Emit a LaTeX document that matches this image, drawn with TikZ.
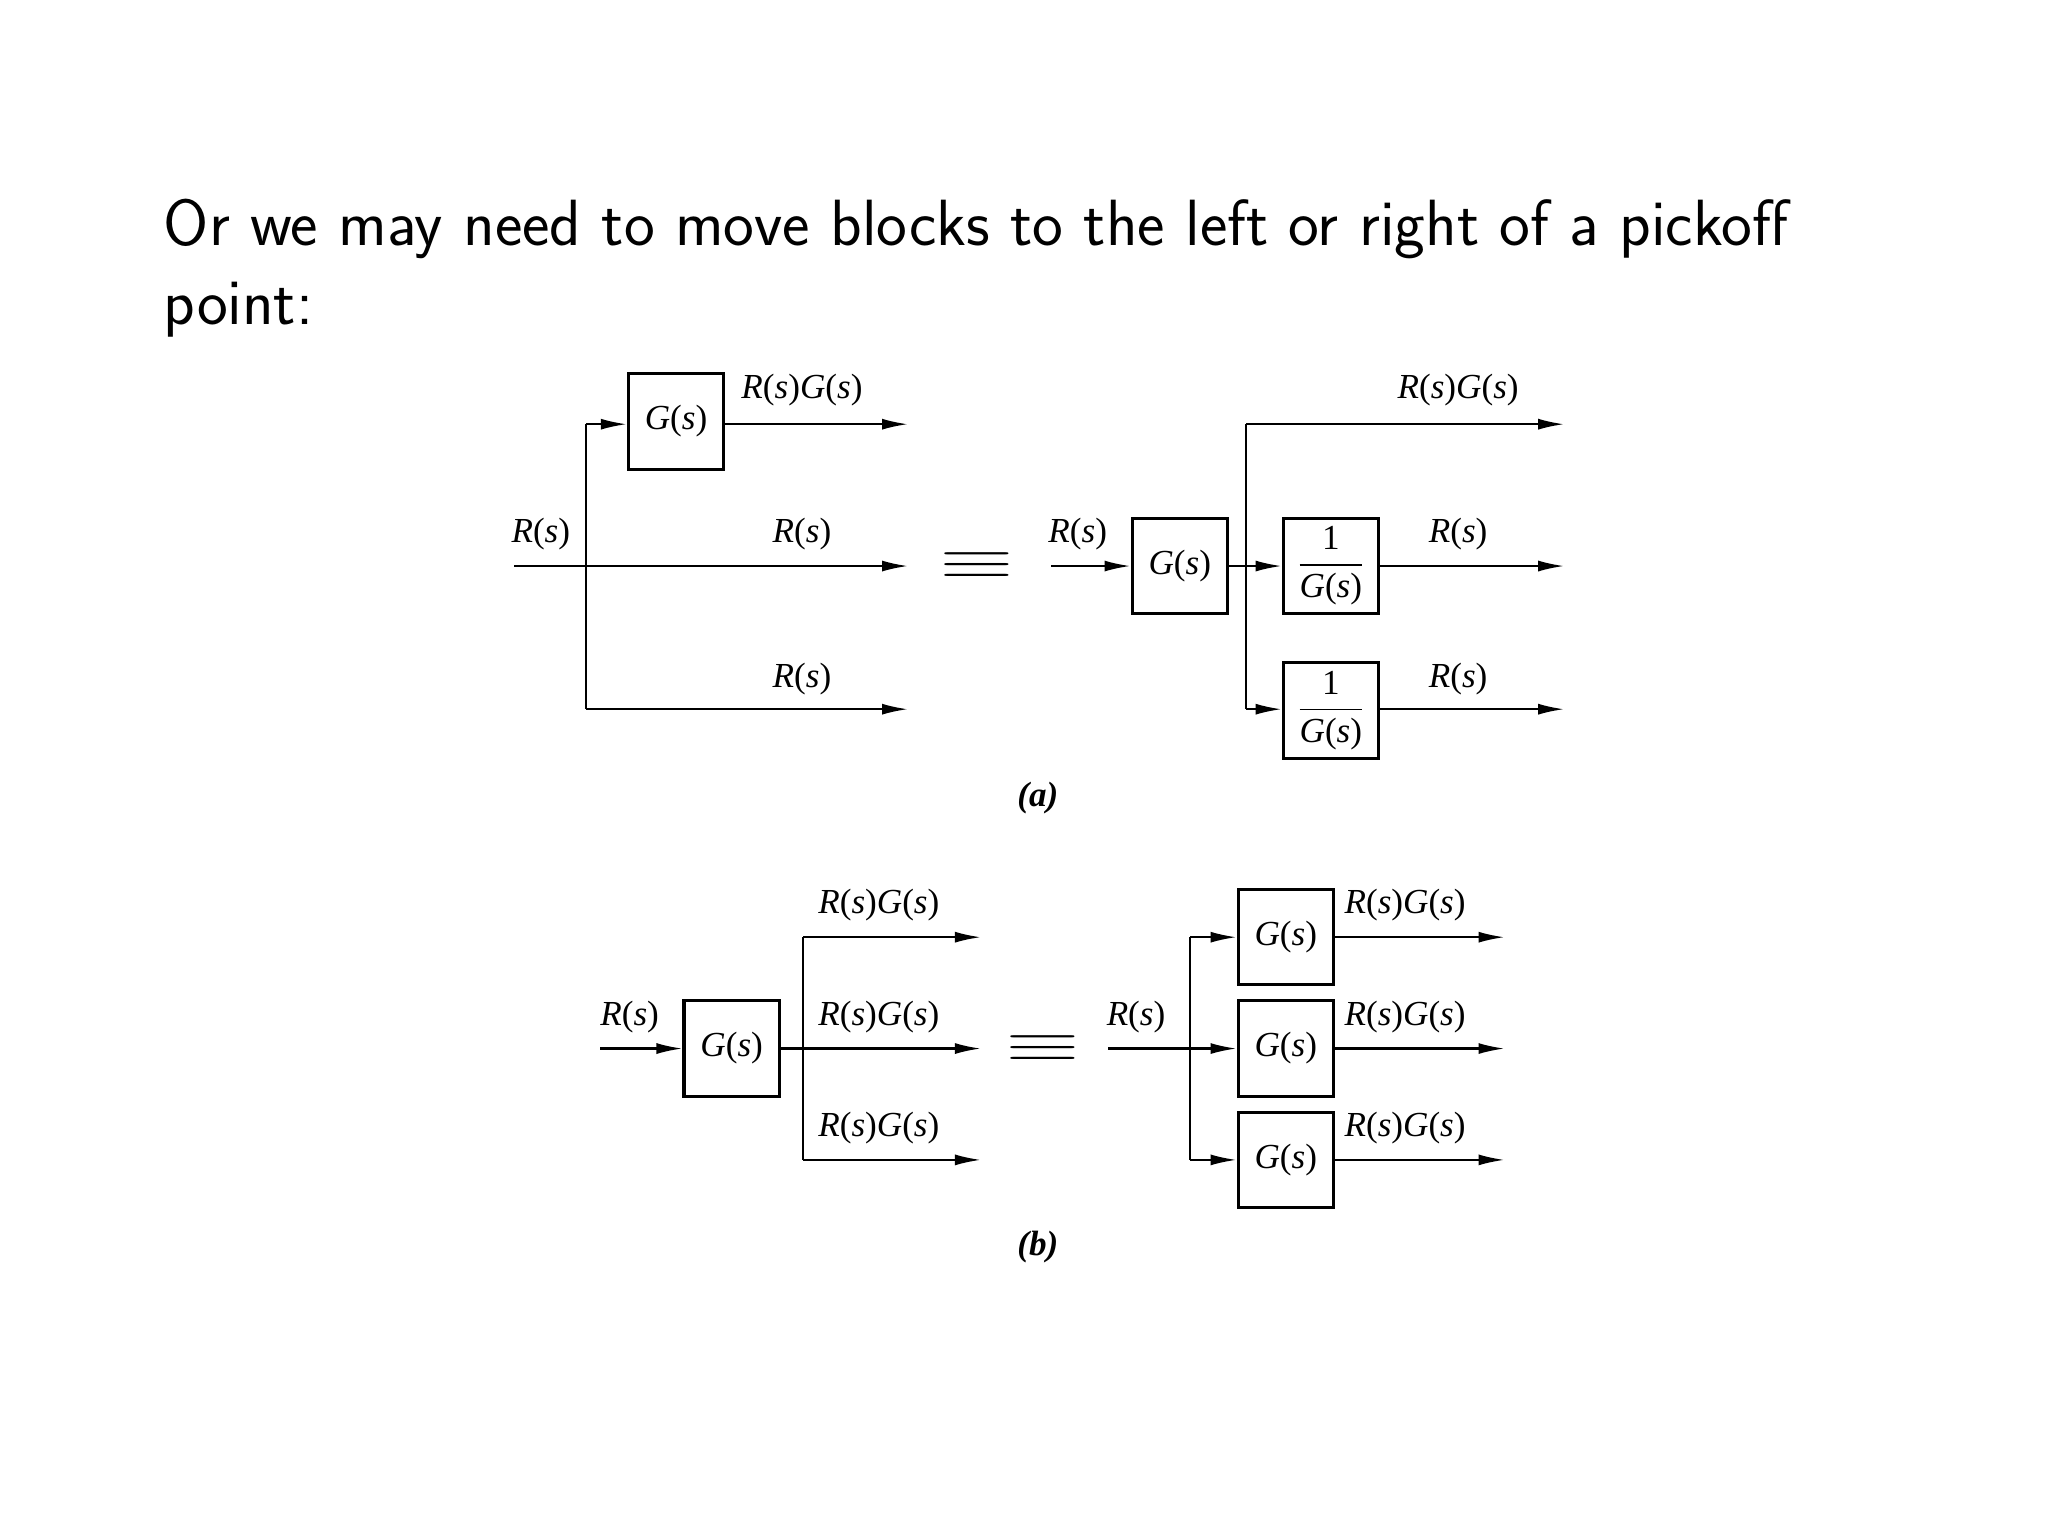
\documentclass[tikz,border=0pt]{standalone}
\usepackage{fontspec}
\newfontfamily\tms{Liberation Serif}
\usetikzlibrary{arrows.meta}
\begin{document}
\begin{tikzpicture}[x=0.013256cm,y=-0.013256cm,
  blk/.style={draw,line width=0.9pt,minimum width=0.954cm,minimum height=0.954cm,inner sep=0pt,font=\tms\fontsize{10}{12}\selectfont},
  lbl/.style={font=\tms\fontsize{10}{12}\selectfont},
  ln/.style={line width=0.6pt},
  eqv/.style={font=\Large},
  ar/.style={ln,-{Latex[length=0.26cm,width=0.11cm]}}]
\useasboundingbox (0,0) rectangle (1545,1159);
\node[anchor=base west,font=\sffamily\fontsize{18.6}{22.6}\selectfont,align=left,inner sep=0pt] (t) at (123,245) {Or we may need to move blocks to the left or right of a pickoff\\point:};
\newcommand{\RG}{\textit{R}(\textit{s})\textit{G}(\textit{s})}
\newcommand{\Rs}{\textit{R}(\textit{s})}
\newcommand{\Gs}{\textit{G}(\textit{s})}
\newcommand{\eqsym}{\scalebox{1.9}[1.1]{$\equiv$}}
\newcommand{\invG}{$\displaystyle\frac{\mbox{\tms 1}}{\mbox{\tms\Gs}}$}
% (a) left
\coordinate (ain) at (388,427);
\coordinate (ap) at (442,427);
\coordinate (apt) at (442,320);
\coordinate (apb) at (442,535);
\node[blk] (ag) at (510,318) {\Gs};
\coordinate (ao1) at (685,320);
\coordinate (ao2) at (685,427);
\coordinate (ao3) at (685,535);
\draw[ln] (ain) -- (ap);
\draw[ar] (ap) -- (ao2);
\draw[ln] (apt) -- (apb);
\draw[ar] (apt) -- (ag.west |- apt);
\draw[ar] (ag.east |- ao1) -- (ao1);
\draw[ar] (apb) -- (ao3);
\node[lbl] (l1) at (408,403) {\Rs};
\node[lbl] (l2) at (605,294) {\RG};
\node[lbl] (l3) at (605,403) {\Rs};
\node[lbl] (l4) at (605,512) {\Rs};
\node[eqv] (eq1) at (737,427) {\eqsym};
% (a) right
\coordinate (bin) at (793,427);
\node[blk] (bg) at (890,427) {\Gs};
\coordinate (bp) at (940,427);
\coordinate (bpt) at (940,320);
\coordinate (bpb) at (940,535);
\node[blk] (bi1) at (1004,427) {\invG};
\node[blk] (bi2) at (1004,536) {\invG};
\coordinate (bo1) at (1180,320);
\coordinate (bo2) at (1180,427);
\coordinate (bo3) at (1180,535);
\draw[ar] (bin) -- (bg);
\draw[ln] (bg) -- (bp);
\draw[ln] (bpt) -- (bpb);
\draw[ar] (bp) -- (bi1);
\draw[ar] (bpb) -- (bi2.west |- bpb);
\draw[ar] (bpt) -- (bo1);
\draw[ar] (bi1) -- (bo2);
\draw[ar] (bi2.east |- bo3) -- (bo3);
\node[lbl] (m1) at (813,403) {\Rs};
\node[lbl] (m2) at (1100,294) {\RG};
\node[lbl] (m3) at (1100,403) {\Rs};
\node[lbl] (m4) at (1100,512) {\Rs};
\node[lbl] (ca) at (783,602) {\textbf{\textit{(a)}}};
% (b) left
\coordinate (cin) at (453,791);
\node[blk] (cg) at (552,791) {\Gs};
\coordinate (cp) at (606,791);
\coordinate (cpt) at (606,707);
\coordinate (cpb) at (606,875);
\coordinate (co1) at (740,707);
\coordinate (co2) at (740,791);
\coordinate (co3) at (740,875);
\draw[ar] (cin) -- (cg);
\draw[ar] (cg) -- (co2);
\draw[ln] (cpt) -- (cpb);
\draw[ar] (cpt) -- (co1);
\draw[ar] (cpb) -- (co3);
\node[lbl] (n1) at (475,767) {\Rs};
\node[lbl] (n2) at (663,683) {\RG};
\node[lbl] (n3) at (663,767) {\RG};
\node[lbl] (n4) at (663,851) {\RG};
\node[eqv] (eq2) at (787,791) {\eqsym};
% (b) right
\coordinate (din) at (836,791);
\coordinate (dp) at (898,791);
\coordinate (dpt) at (898,707);
\coordinate (dpb) at (898,875);
\node[blk] (dg1) at (970,707) {\Gs};
\node[blk] (dg2) at (970,791) {\Gs};
\node[blk] (dg3) at (970,875) {\Gs};
\coordinate (do1) at (1135,707);
\coordinate (do2) at (1135,791);
\coordinate (do3) at (1135,875);
\draw[ar] (din) -- (dg2);
\draw[ln] (dpt) -- (dpb);
\draw[ar] (dpt) -- (dg1);
\draw[ar] (dpb) -- (dg3);
\draw[ar] (dg1) -- (do1);
\draw[ar] (dg2) -- (do2);
\draw[ar] (dg3) -- (do3);
\node[lbl] (o1) at (857,767) {\Rs};
\node[lbl] (o2) at (1060,683) {\RG};
\node[lbl] (o3) at (1060,767) {\RG};
\node[lbl] (o4) at (1060,851) {\RG};
\node[lbl] (cb) at (783,941) {\textbf{\textit{(b)}}};
\end{tikzpicture}
\end{document}
